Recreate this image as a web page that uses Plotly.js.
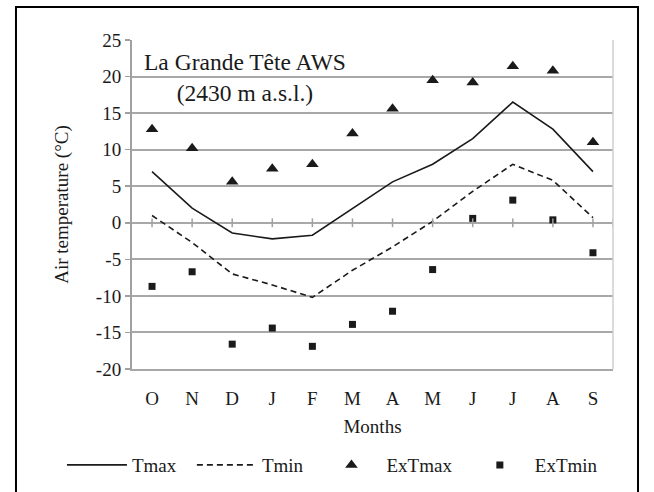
<!DOCTYPE html>
<html>
<head>
<meta charset="utf-8">
<script src="https://cdn.plot.ly/plotly-3.0.1.min.js"></script>
<style>html,body{margin:0;padding:0;background:#fff;}#chart{width:654px;height:492px;}</style>
</head>
<body>
<div id="chart"></div>
<script>
var months = ["O","N","D","J","F","M","A","M","J","J","A","S"];
var tmax   = [7, 2, -1.4, -2.2, -1.7, 2, 5.6, 8, 11.5, 16.5, 12.8, 7];
var tmin   = [1, -2.7, -7, -8.5, -10.2, -6.5, -3.3, 0.2, 4.3, 8, 5.8, 0.7];
var exTmax = [12.8, 10.2, 5.6, 7.4, 8, 12.2, 15.6, 19.5, 19.2, 21.4, 20.8, 11];
var exTmin = [-8.7, -6.7, -16.6, -14.4, -16.9, -13.9, -12.1, -6.4, 0.6, 3.1, 0.4, -4.1];
var yTicks = [-20, -15, -10, -5, 0, 5, 10, 15, 20, 25];
var yTickText = ["-20", "-15", "-10", "-5", "0", "5", "10", "15", "20", "25"];

var idx = months.map(function(m, i){ return i; });
var FONT = "Liberation Serif";
var TXT = "#1a1a1a";
var FS = 19;

var traces = [
  {x: idx, y: tmax, name: "Tmax", type: "scatter", mode: "lines", legend: "legend",
   line: {color: "#1a1a1a", width: 1.6}},
  {x: idx, y: tmin, name: "Tmin", type: "scatter", mode: "lines", legend: "legend2",
   line: {color: "#1a1a1a", width: 1.6, dash: "6px,4px"}},
  {x: idx, y: exTmax, name: "ExTmax", type: "scatter", mode: "markers", legend: "legend3",
   marker: {symbol: "triangle-up", size: 11, color: "#1a1a1a"}},
  {x: idx, y: exTmin, name: "ExTmin", type: "scatter", mode: "markers", legend: "legend4",
   marker: {symbol: "square", size: 7, color: "#1a1a1a"}}
];

var shapes = [];
var tickPos = idx.concat([months.length - 0.5]);
tickPos.forEach(function(p){
  shapes.push({type: "line", xref: "x", yref: "y", x0: p, x1: p, y0: -0.6, y1: 0.6,
               line: {color: "#a0a0a0", width: 1.5}});
});
shapes.push({type: "rect", xref: "paper", yref: "paper",
  x0: -0.2412, x1: 1.052, y0: -0.39, y1: 1.1003,
  line: {color: "#000", width: 2}, fillcolor: "rgba(0,0,0,0)"});
shapes.push({type: "line", xref: "paper", yref: "paper", x0: 1, x1: 1, y0: 0, y1: 1,
  line: {color: "#cfcfcf", width: 1.5}});

function leg(x) {
  return {orientation: "h", x: x, y: -0.292, xanchor: "left", yanchor: "middle",
          font: {family: FONT, size: FS, color: TXT}, itemwidth: 60,
          bgcolor: "rgba(0,0,0,0)"};
}

var layout = {
  width: 654, height: 492,
  margin: {l: 132, r: 41, t: 40, b: 123, autoexpand: false},
  paper_bgcolor: "#fff", plot_bgcolor: "#fff",
  font: {family: FONT, size: FS, color: TXT},
  showlegend: true,
  legend: leg(-0.1456),
  legend2: leg(0.1245),
  legend3: leg(0.3835),
  legend4: leg(0.692),
  xaxis: {
    type: "linear", range: [-0.5, months.length - 0.5],
    tickmode: "array", tickvals: idx, ticktext: months,
    showgrid: false, zeroline: false, showline: true, linecolor: "#a8a8a8", linewidth: 2,
    ticks: "", ticklabelstandoff: 11, automargin: false,
    tickfont: {family: FONT, size: FS, color: TXT},
    title: {text: "Months", font: {family: FONT, size: FS, color: TXT}, standoff: 12},
    fixedrange: true
  },
  yaxis: {
    range: [-20, 25], tickmode: "array", tickvals: yTicks, ticktext: yTickText,
    showgrid: true, gridcolor: "#a8a8a8", gridwidth: 2, automargin: false,
    zeroline: false, showline: true, linecolor: "#a0a0a0", linewidth: 2,
    ticks: "outside", ticklen: 5, tickcolor: "#a0a0a0", tickwidth: 1.5,
    tickfont: {family: FONT, size: FS, color: TXT},
    title: {text: "Air temperature (°C)", font: {family: FONT, size: FS, color: TXT}, standoff: 22},
    fixedrange: true
  },
  shapes: shapes,
  annotations: [{
    xref: "paper", yref: "paper", x: 0.235, y: 0.8865, xanchor: "center", yanchor: "middle",
    text: "La Grande Tête AWS<br>(2430 m a.s.l.)", showarrow: false, align: "center",
    font: {family: FONT, size: 23.5, color: TXT}
  }]
};

Plotly.newPlot("chart", traces, layout, {displayModeBar: false, staticPlot: true});
</script>
</body>
</html>
